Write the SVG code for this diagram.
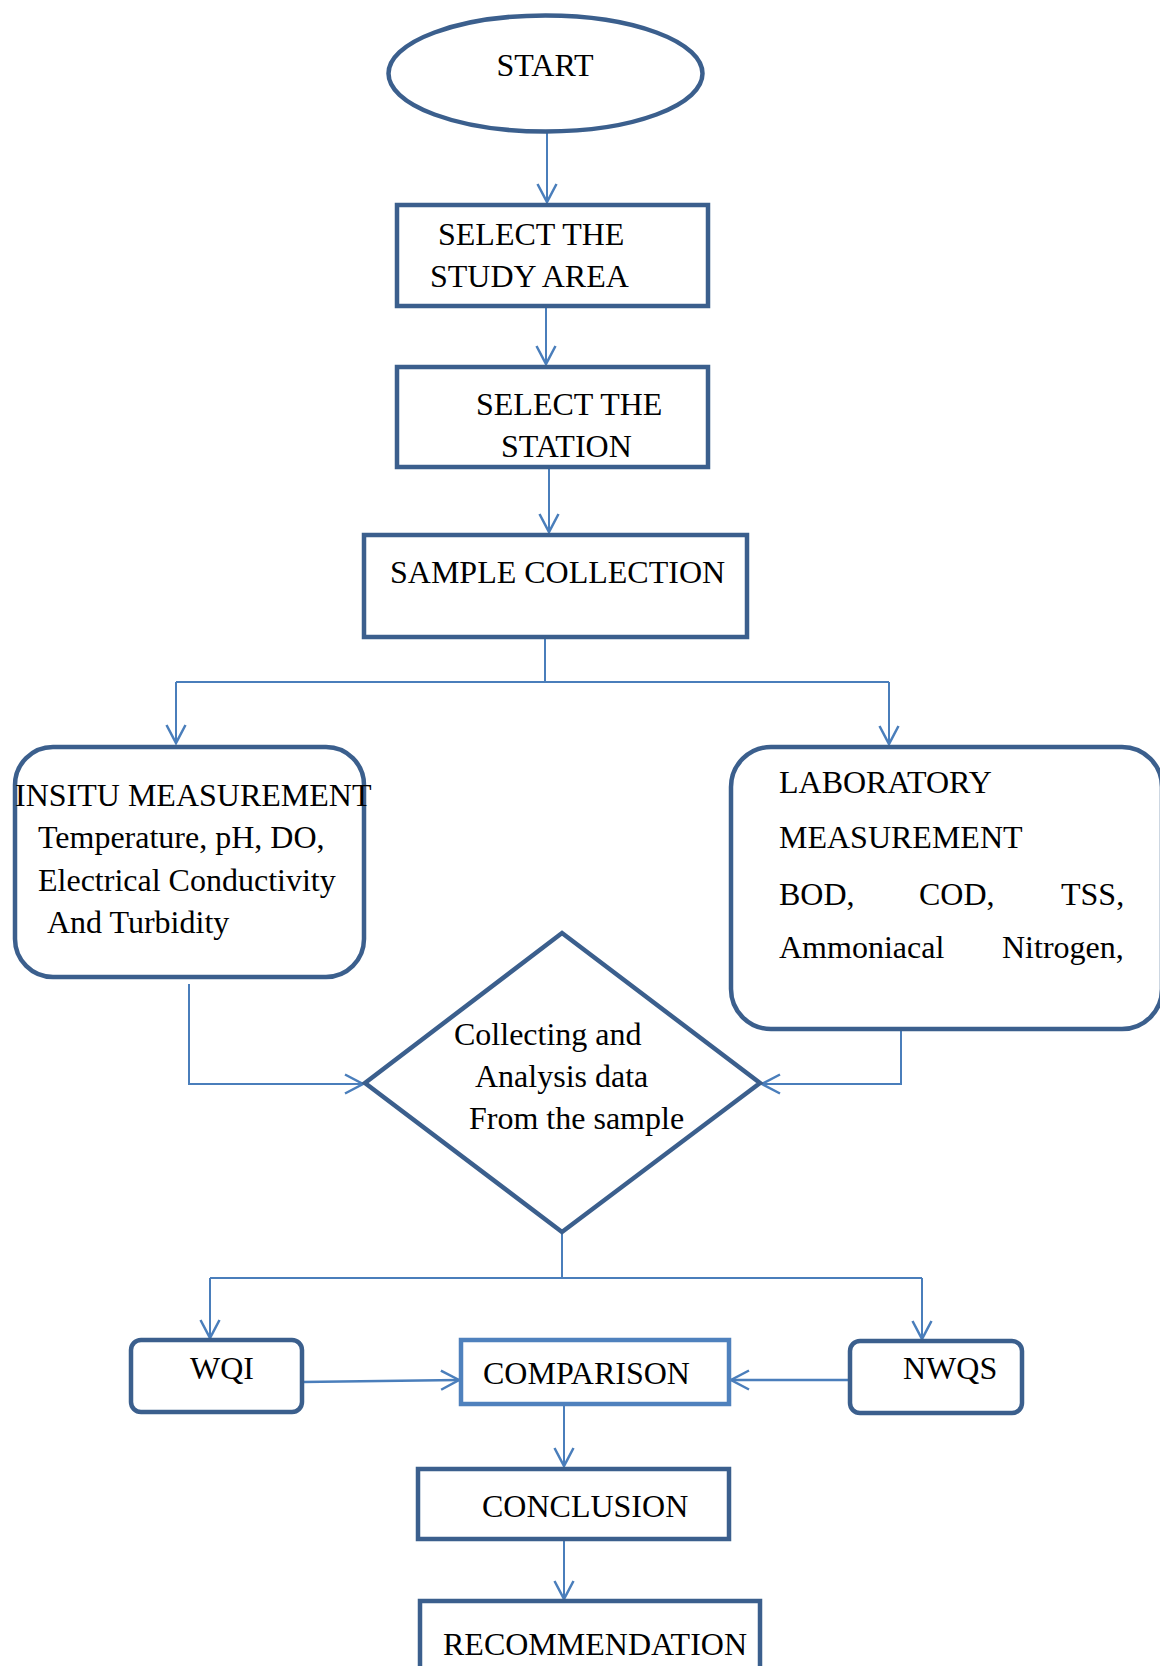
<svg xmlns="http://www.w3.org/2000/svg" width="1160" height="1666" viewBox="0 0 1160 1666">
<style>
text{font-family:"Liberation Serif","Times New Roman",serif;font-size:32px;fill:#000}
.n{fill:#fff;stroke:#3B5F8D;stroke-width:4.5}
.c{fill:none;stroke:#4A7EBB;stroke-width:2}
</style>
<defs>
<marker id="ah" markerUnits="userSpaceOnUse" markerWidth="24" markerHeight="24" refX="19" refY="11" orient="auto">
<path d="M1,1.5 L19,11 L1,20.5" fill="none" stroke="#4A7EBB" stroke-width="2.5"/>
</marker>
</defs>
<rect width="1160" height="1666" fill="#fff"/>
<g id="connectors">
<line class="c" x1="547" y1="132" x2="547" y2="202" marker-end="url(#ah)"/>
<line class="c" x1="546" y1="308" x2="546" y2="364" marker-end="url(#ah)"/>
<line class="c" x1="549" y1="469" x2="549" y2="532" marker-end="url(#ah)"/>
<polyline class="c" points="545,637 545,682"/>
<line class="c" x1="176" y1="682" x2="889" y2="682"/>
<line class="c" x1="176" y1="682" x2="176" y2="743" marker-end="url(#ah)"/>
<line class="c" x1="889" y1="682" x2="889" y2="744" marker-end="url(#ah)"/>
<polyline class="c" points="189,984 189,1084 363,1084" marker-end="url(#ah)"/>
<polyline class="c" points="901,1030 901,1084 762,1084" marker-end="url(#ah)"/>
<line class="c" x1="562" y1="1232" x2="562" y2="1278"/>
<line class="c" x1="210" y1="1278" x2="922" y2="1278"/>
<line class="c" x1="210" y1="1278" x2="210" y2="1338" marker-end="url(#ah)"/>
<line class="c" x1="922" y1="1278" x2="922" y2="1339" marker-end="url(#ah)"/>
<line class="c" x1="302" y1="1382" x2="459" y2="1380" marker-end="url(#ah)" style="stroke-width:2.5"/>
<line class="c" x1="850" y1="1380" x2="731" y2="1380" marker-end="url(#ah)" style="stroke-width:2.5"/>
<line class="c" x1="564" y1="1405" x2="564" y2="1466" marker-end="url(#ah)"/>
<line class="c" x1="564" y1="1540" x2="564" y2="1599" marker-end="url(#ah)"/>
</g>
<g id="start">
<ellipse class="n" cx="545.5" cy="73.5" rx="157" ry="58"/>
<text x="545" y="76" text-anchor="middle">START</text>
</g>
<g id="study-area">
<rect class="n" x="397" y="205" width="311" height="101"/>
<text x="438" y="245">SELECT THE</text>
<text x="430" y="287">STUDY AREA</text>
</g>
<g id="station">
<rect class="n" x="397" y="367" width="311" height="100"/>
<text x="476" y="415">SELECT THE</text>
<text x="501" y="457">STATION</text>
</g>
<g id="sample-collection">
<rect class="n" x="364" y="535" width="383" height="102"/>
<text x="390" y="583">SAMPLE COLLECTION</text>
</g>
<g id="insitu">
<rect class="n" x="15" y="747" width="349" height="230" rx="38"/>
<text x="15" y="806">INSITU MEASUREMENT</text>
<text x="38" y="848">Temperature, pH, DO,</text>
<text x="38" y="891">Electrical Conductivity</text>
<text x="47" y="933">And Turbidity</text>
</g>
<g id="laboratory">
<rect class="n" x="731" y="747" width="431" height="282" rx="40"/>
<text x="779" y="793">LABORATORY</text>
<text x="779" y="848">MEASUREMENT</text>
<text x="779" y="905">BOD,</text>
<text x="919" y="905">COD,</text>
<text x="1061" y="905">TSS,</text>
<text x="779" y="958">Ammoniacal</text>
<text x="1002" y="958">Nitrogen,</text>
</g>
<g id="analysis">
<polygon class="n" points="562,933 760,1083 562,1232 365,1083"/>
<text x="454" y="1045">Collecting and</text>
<text x="475" y="1087">Analysis data</text>
<text x="469" y="1129">From the sample</text>
</g>
<g id="wqi">
<rect class="n" x="131" y="1340" width="171" height="72" rx="10"/>
<text x="190" y="1379">WQI</text>
</g>
<g id="comparison">
<rect class="n" x="461" y="1340" width="268" height="64" style="stroke:#4F81BD"/>
<text x="483" y="1384">COMPARISON</text>
</g>
<g id="nwqs">
<rect class="n" x="850" y="1341" width="172" height="72" rx="10"/>
<text x="903" y="1379">NWQS</text>
</g>
<g id="conclusion">
<rect class="n" x="418" y="1469" width="311" height="70"/>
<text x="482" y="1517">CONCLUSION</text>
</g>
<g id="recommendation">
<rect class="n" x="420" y="1601" width="340" height="90"/>
<text x="443" y="1655">RECOMMENDATION</text>
</g>
</svg>
